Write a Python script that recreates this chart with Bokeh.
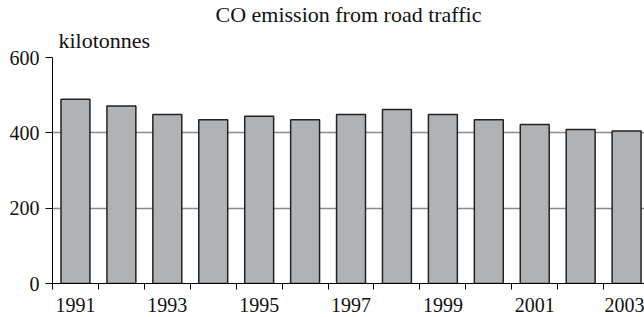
from bokeh.plotting import figure
from bokeh.models import Range1d, FixedTicker, Title, ColumnDataSource
from bokeh.embed import file_html
from bokeh.resources import INLINE

years = [1991, 1992, 1993, 1994, 1995, 1996, 1997, 1998, 1999, 2000, 2001, 2002, 2003]
emissions = [489, 471, 449, 435, 444, 435, 449, 462, 449, 435, 422, 409, 405]
label_years = [1991, 1993, 1995, 1997, 1999, 2001, 2003]
y_ticks = [0, 200, 400, 600]
title_text = "CO emission from road traffic"
unit_text = "kilotonnes"

FONT = "Liberation Serif"

p = figure(width=644, height=317, output_backend="svg", toolbar_location=None,
           x_range=Range1d(1990.5, 2003.39), y_range=Range1d(0, 600),
           min_border_left=52, min_border_right=0, min_border_top=57, min_border_bottom=34)
p.outline_line_color = None
p.background_fill_color = "white"
p.title = None

src = ColumnDataSource(dict(x=years, top=emissions))
p.vbar(x="x", top="top", width=0.63, bottom=0, source=src,
       fill_color="#b0b3b5", line_color="#222222", line_width=1.5)

# x axis
xa = p.xaxis[0]
xa.ticker = FixedTicker(ticks=label_years,
                        minor_ticks=[y - 0.5 for y in years] + [years[-1] + 0.5])
xa.major_tick_out = 0
xa.major_tick_in = 0
xa.minor_tick_in = 0
xa.minor_tick_out = 6
xa.minor_tick_line_color = "black"
xa.minor_tick_line_width = 1
xa.axis_line_color = "black"
xa.axis_line_width = 1
xa.major_label_standoff = 8
xa.major_label_text_font = FONT
xa.major_label_text_font_size = "20px"
xa.major_label_text_color = "#111111"

# y axis
ya = p.yaxis[0]
ya.ticker = FixedTicker(ticks=y_ticks)
ya.major_tick_out = 7
ya.major_tick_in = 0
ya.minor_tick_out = 0
ya.minor_tick_in = 0
ya.major_tick_line_color = "black"
ya.axis_line_color = "black"
ya.axis_line_width = 1
ya.major_label_standoff = 6
ya.major_label_text_font = FONT
ya.major_label_text_font_size = "20px"
ya.major_label_text_color = "#111111"

p.xgrid.grid_line_color = None
p.ygrid.ticker = FixedTicker(ticks=y_ticks)
p.ygrid.grid_line_color = "#8a8a8a"
p.ygrid.grid_line_width = 1.5

p.add_layout(Title(text=unit_text, align="left", offset=6, standoff=9,
                   text_font=FONT, text_font_size="22px", text_font_style="normal",
                   text_color="#111111"), "above")
p.add_layout(Title(text=title_text, align="center", offset=3, standoff=-10,
                   text_font=FONT, text_font_size="22px", text_font_style="normal",
                   text_color="#111111"), "above")

open("out.html", "w").write(file_html(p, INLINE))
